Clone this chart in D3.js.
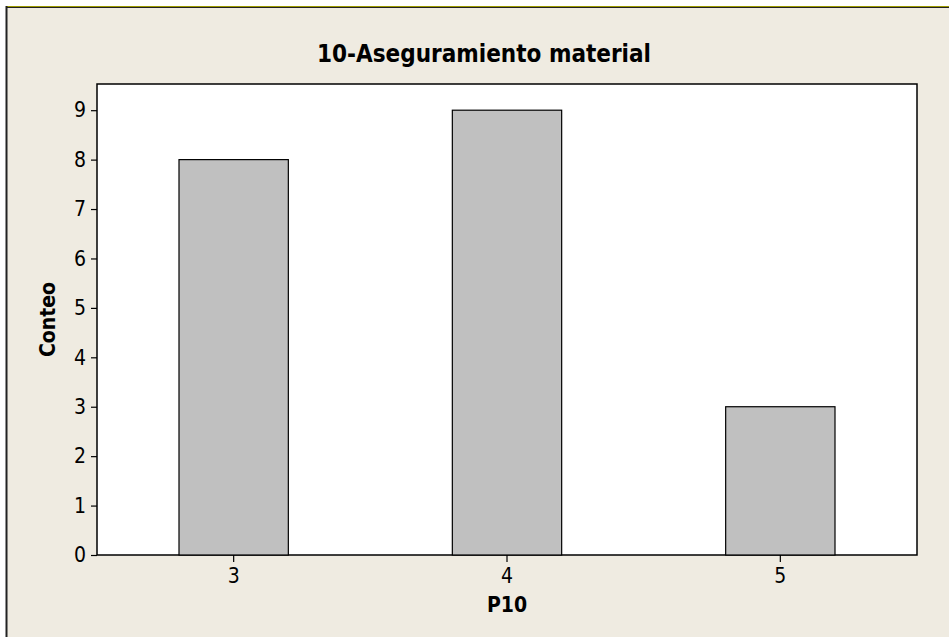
<!DOCTYPE html>
<html><head><meta charset="utf-8">
<script src="https://cdn.jsdelivr.net/npm/d3@7"></script>
<style>body{margin:0;background:#fff;} svg{display:block;}</style>
</head><body>
<svg id="c" width="949" height="637"></svg>
<script>
const categories = ["3", "4", "5"];
const counts = [8, 9, 3];
const yTicks = [0, 1, 2, 3, 4, 5, 6, 7, 8, 9];
const title = "10-Aseguramiento material";
const xLabel = "P10";
const yLabel = "Conteo";

const svg = d3.select("#c");
const font = "'DejaVu Sans Condensed', 'DejaVu Sans', Tahoma, sans-serif";
// frame
svg.append("rect").attr("x", 6).attr("y", 6).attr("width", 949).attr("height", 640).attr("fill", "#EFEBE1");
svg.append("line").attr("x1", 6).attr("x2", 949).attr("y1", 6.5).attr("y2", 6.5).attr("stroke", "#9C9A00").attr("stroke-width", 1);
svg.append("line").attr("x1", 6).attr("x2", 949).attr("y1", 7.5).attr("y2", 7.5).attr("stroke", "#222").attr("stroke-width", 1);
svg.append("line").attr("x1", 6.5).attr("x2", 6.5).attr("y1", 6).attr("y2", 637).attr("stroke", "#222").attr("stroke-width", 2);

const L = 97, R = 917, T = 84, B = 555;
const x = d3.scaleBand().domain(categories).range([L, R]).paddingInner(0.6).paddingOuter(0.3);
const y = d3.scaleLinear().domain([0, 9.53]).range([B, T]);

svg.append("rect").attr("x", L).attr("y", T).attr("width", R - L).attr("height", B - T)
  .attr("fill", "#fff").attr("stroke", "#000").attr("stroke-width", 1.5);

svg.selectAll("rect.bar").data(categories).join("rect").attr("class", "bar")
  .attr("x", d => x(d)).attr("width", x.bandwidth())
  .attr("y", (d, i) => y(counts[i])).attr("height", (d, i) => B - y(counts[i]))
  .attr("fill", "#C0C0C0").attr("stroke", "#000").attr("stroke-width", 1.2);

const ya = svg.append("g").attr("transform", `translate(${L},0)`)
  .call(d3.axisLeft(y).tickValues(yTicks).tickSize(6).tickPadding(5).tickFormat(d3.format("d")));
ya.select(".domain").remove();
ya.selectAll("line").attr("stroke", "#000").attr("stroke-width", 1.2);
ya.selectAll("text").attr("font-family", font).attr("font-size", 21).attr("fill", "#000");

const xa = svg.append("g").attr("transform", `translate(0,${B})`)
  .call(d3.axisBottom(x).tickSize(7).tickPadding(6));
xa.select(".domain").remove();
xa.selectAll("line").attr("stroke", "#000").attr("stroke-width", 1.2);
xa.selectAll("text").attr("font-family", font).attr("font-size", 21).attr("fill", "#000");

svg.append("text").attr("x", 484).attr("y", 62).attr("text-anchor", "middle")
  .attr("font-family", font).attr("font-weight", "bold").attr("font-size", 24).text(title);
svg.append("text").attr("x", (L + R) / 2).attr("y", 611.5).attr("text-anchor", "middle")
  .attr("font-family", font).attr("font-weight", "bold").attr("font-size", 21).text(xLabel);
svg.append("text").attr("transform", `translate(55,${(T + B) / 2}) rotate(-90)`).attr("text-anchor", "middle")
  .attr("font-family", font).attr("font-weight", "bold").attr("font-size", 21).text(yLabel);
</script>
</body></html>
